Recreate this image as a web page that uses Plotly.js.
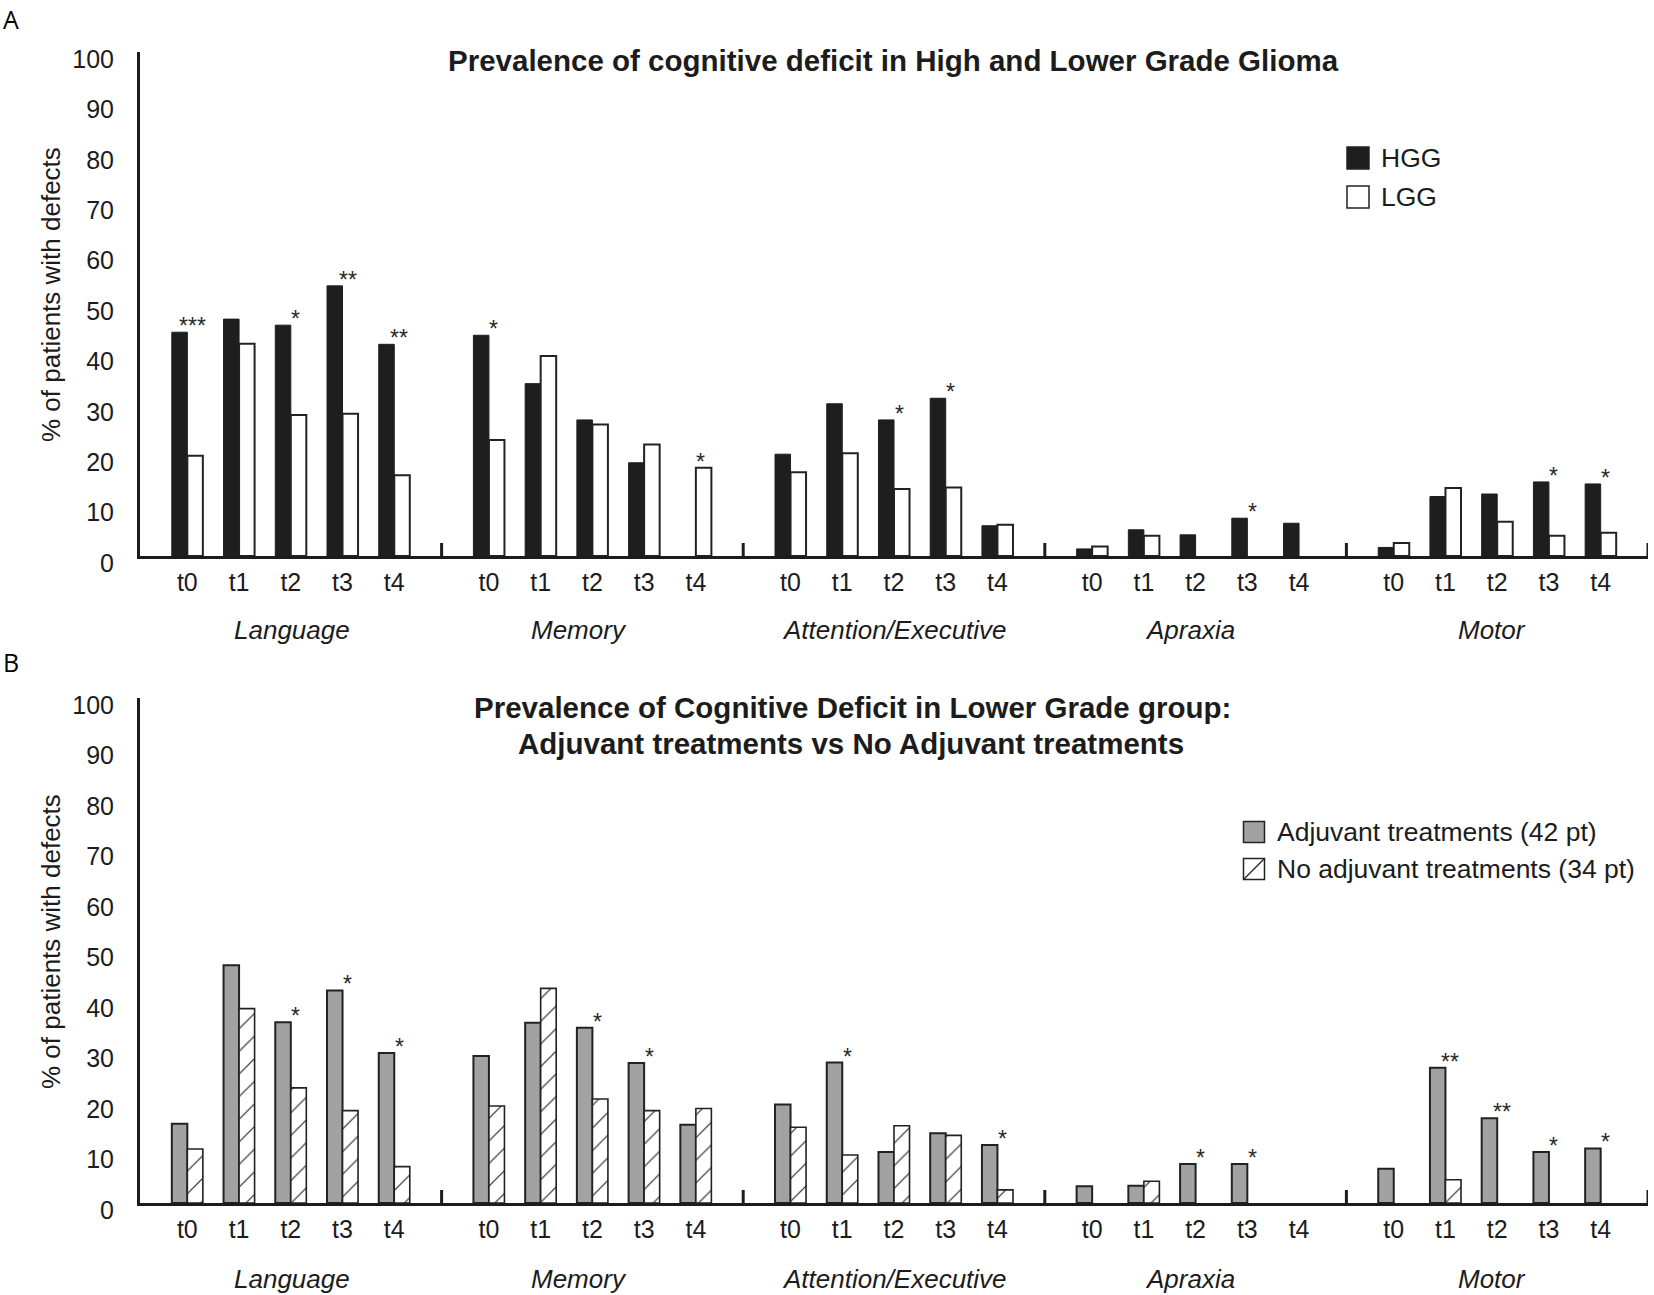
<!DOCTYPE html>
<html><head><meta charset="utf-8">
<script src="https://cdn.plot.ly/plotly-3.0.1.min.js"></script>
<style>html,body{margin:0;padding:0;background:#fff}#chart{width:1654px;height:1295px}</style>
</head><body><div id="chart"></div>
<script>
// ---------- data ----------
const domains = ['Language', 'Memory', 'Attention/Executive', 'Apraxia', 'Motor'];
const times = ['t0', 't1', 't2', 't3', 't4'];

const nameHGG = 'HGG';
const nameLGG = 'LGG';
const hgg = [44.4, 47.0, 45.8, 53.6, 42.0,  43.8, 34.2, 27.0, 18.5, 0,  20.2, 30.2, 27.0, 31.3, 6.0,  1.4, 5.2, 4.2, 7.5, 6.5,  1.7, 11.8, 12.3, 14.7, 14.3];
const lgg = [19.9, 42.1, 28.0, 28.2, 16.0,  23.0, 39.7, 26.1, 22.1, 17.5,  16.6, 20.4, 13.3, 13.6, 6.2,  1.9, 4.0, 0, 0, 0,  2.6, 13.5, 6.8, 4.0, 4.6];
const sigA = ['***', '', '*', '**', '**',  '*', '', '', '', '*',  '', '', '*', '*', '',  '', '', '', '*', '',  '', '', '', '*', '*'];

const nameAdj = 'Adjuvant treatments (42 pt)';
const nameNoAdj = 'No adjuvant treatments (34 pt)';
const adj = [15.7, 47.1, 35.8, 42.1, 29.7,  29.1, 35.7, 34.7, 27.7, 15.5,  19.5, 27.8, 10.1, 13.8, 11.5,  3.3, 3.4, 7.7, 7.7, 0,  6.8, 26.8, 16.8, 10.1, 10.8];
const noAdj = [10.7, 38.5, 22.8, 18.3, 7.2,  19.2, 42.5, 20.6, 18.3, 18.7,  15.0, 9.5, 15.3, 13.4, 2.6,  0, 4.3, 0, 0, 0,  0, 4.6, 0, 0, 0];
const sigB = ['', '', '*', '*', '*',  '', '', '*', '*', '',  '', '*', '', '', '*',  '', '', '*', '*', '',  '', '**', '**', '*', '*'];

const yTicks = [0, 10, 20, 30, 40, 50, 60, 70, 80, 90, 100];
const titleA = 'Prevalence of cognitive deficit in High and Lower Grade Glioma';
const titleB = ['Prevalence of Cognitive Deficit in Lower Grade group:', 'Adjuvant treatments vs No Adjuvant treatments'];
const yTitle = '% of patients with defects';
const panelLetters = ['A', 'B'];

// ---------- layout helpers ----------
const W = 1654, H = 1295;
const px = v => v / W, py = v => 1 - v / H;
const CL = 5.83, PAD = 0.915;           // cluster width and edge padding (category units)
const FONT = 'Liberation Sans, Arial, sans-serif';
const INK = '#1c1c1c';
const groupLabelShift = [1, -13, 0, -6, -5];

const xpos = [], xtext = [];
domains.forEach((d, g) => times.forEach((t, i) => { xpos.push(g * CL + i); xtext.push(t); }));
const lw = (vals, w) => vals.map(v => (v > 0 ? w : 0));

const traces = [
  {type: 'bar', x: xpos, y: hgg, name: nameHGG, xaxis: 'x', yaxis: 'y', showlegend: false,
   marker: {color: '#1e1e1e', line: {color: '#1e1e1e', width: lw(hgg, 1)}}},
  {type: 'bar', x: xpos, y: lgg, name: nameLGG, xaxis: 'x', yaxis: 'y', showlegend: false,
   marker: {color: '#ffffff', line: {color: '#222', width: lw(lgg, 2)}}},
  {type: 'bar', x: xpos, y: adj, name: nameAdj, xaxis: 'x2', yaxis: 'y2', showlegend: false,
   marker: {color: '#a2a2a2', line: {color: '#222', width: lw(adj, 2)}}},
  {type: 'bar', x: xpos, y: noAdj, name: nameNoAdj, xaxis: 'x2', yaxis: 'y2', showlegend: false,
   marker: {color: '#ffffff', line: {color: '#222', width: lw(noAdj, 1.6)},
            pattern: {shape: '/', fgcolor: '#222', bgcolor: '#ffffff', size: 16, solidity: 0.07}}}
];

function xAxis(anchor) {
  return {domain: [px(140), px(1648)], anchor: anchor, range: [-PAD, 5 * CL - PAD],
    tickmode: 'array', tickvals: xpos, ticktext: xtext, ticks: '', showgrid: false, zeroline: false,
    showline: true, linecolor: INK, linewidth: 3, tickfont: {family: FONT, size: 25, color: INK},
    ticklabelstandoff: 2, fixedrange: true};
}
function yAxis(anchor, top, bottom) {
  return {domain: [py(bottom), py(top)], anchor: anchor, range: [0, 100],
    tickmode: 'array', tickvals: yTicks, ticks: '', showgrid: false, zeroline: false,
    showline: true, linecolor: INK, linewidth: 3, tickfont: {family: FONT, size: 25, color: INK},
    ticklabelshift: 7, ticklabelstandoff: 18, fixedrange: true};
}

const annotations = [];
const shapes = [];

// panel letters
[[19, 'A'], [662, 'B']].forEach(([y, t], k) => annotations.push({
  xref: 'paper', yref: 'paper', x: px(1), y: py(y), xanchor: 'left', yanchor: 'middle',
  text: panelLetters[k], showarrow: false, font: {family: 'Open Sans, sans-serif', size: 25, color: '#000'}}));

// y axis titles
[295, 942].forEach(yc => annotations.push({xref: 'paper', yref: 'paper', x: px(51), y: py(yc),
  xanchor: 'center', yanchor: 'middle', textangle: -90, text: yTitle, showarrow: false,
  font: {family: FONT, size: 26, color: INK}}));

// titles
annotations.push({xref: 'paper', yref: 'paper', x: px(894), y: py(61), xanchor: 'center', yanchor: 'middle',
  text: '<b>' + titleA + '</b>', showarrow: false, font: {family: FONT, size: 29.5, color: INK}});
[[852, 708], [851, 743]].forEach(([xc, yc], k) => annotations.push({xref: 'paper', yref: 'paper', x: px(xc), y: py(yc),
  xanchor: 'center', yanchor: 'middle', text: '<b>' + titleB[k] + '</b>', showarrow: false,
  font: {family: FONT, size: 29.5, color: INK}}));

// group labels, separators
[['x', 'y', 630], ['x2', 'y2', 1279]].forEach(([xa, ya, yl]) => {
  domains.forEach((d, g) => {
    annotations.push({xref: xa, yref: 'paper', x: g * CL + 2, y: py(yl), xanchor: 'center', yanchor: 'middle',
      xshift: groupLabelShift[g], text: '<i>' + d + '</i>', showarrow: false, font: {family: FONT, size: 26, color: INK}});
    const bx = (g + 1) * CL - PAD;
    shapes.push({type: 'line', xref: xa, yref: ya, x0: bx, x1: bx, ysizemode: 'pixel', yanchor: 0, y0: 0, y1: 13,
      line: {color: INK, width: 3}});
  });
});

// significance stars
function stars(sig, a, b, xa, ya) {
  sig.forEach((s, k) => {
    if (!s) return;
    annotations.push({xref: xa, yref: ya, x: xpos[k], y: Math.max(a[k], b[k]), xanchor: 'center', yanchor: 'bottom',
      xshift: 5, yshift: -9, text: s, showarrow: false, font: {family: FONT, size: 23, color: '#2a2a2a'}});
  });
}
stars(sigA, hgg, lgg, 'x', 'y');
stars(sigB, adj, noAdj, 'x2', 'y2');

// legends (drawn manually to match swatch size)
function legendItem(cx, cy, s, fill, label, hatch) {
  shapes.push({type: 'rect', xref: 'paper', yref: 'paper', x0: px(cx - s / 2), x1: px(cx + s / 2),
    y0: py(cy + s / 2), y1: py(cy - s / 2), fillcolor: fill, line: {color: '#222', width: 1.5}});
  if (hatch) shapes.push({type: 'line', xref: 'paper', yref: 'paper', x0: px(cx - s / 2), y0: py(cy + s / 2),
    x1: px(cx + s / 2), y1: py(cy - s / 2), line: {color: '#222', width: 1.2}});
  annotations.push({xref: 'paper', yref: 'paper', x: px(cx + s / 2 + 10), y: py(cy), xanchor: 'left', yanchor: 'middle',
    text: label, showarrow: false, font: {family: FONT, size: 26.5, color: INK}});
}
legendItem(1358, 158, 22, '#1e1e1e', nameHGG, false);
legendItem(1358, 197, 22, '#ffffff', nameLGG, false);
legendItem(1254, 832, 21, '#a2a2a2', nameAdj, false);
legendItem(1254, 869, 21, '#ffffff', nameNoAdj, true);

const layout = {
  width: W, height: H, margin: {l: 0, r: 0, t: 0, b: 0}, paper_bgcolor: '#fff', plot_bgcolor: '#fff',
  barmode: 'group', bargap: 0.4, bargroupgap: 0, showlegend: false,
  font: {family: FONT, color: INK},
  xaxis: xAxis('y'), yaxis: yAxis('x', 52, 556),
  xaxis2: xAxis('y2'), yaxis2: yAxis('x2', 698, 1203),
  annotations: annotations, shapes: shapes
};

Plotly.newPlot('chart', traces, layout, {displayModeBar: false, staticPlot: true});
</script>
</body></html>
